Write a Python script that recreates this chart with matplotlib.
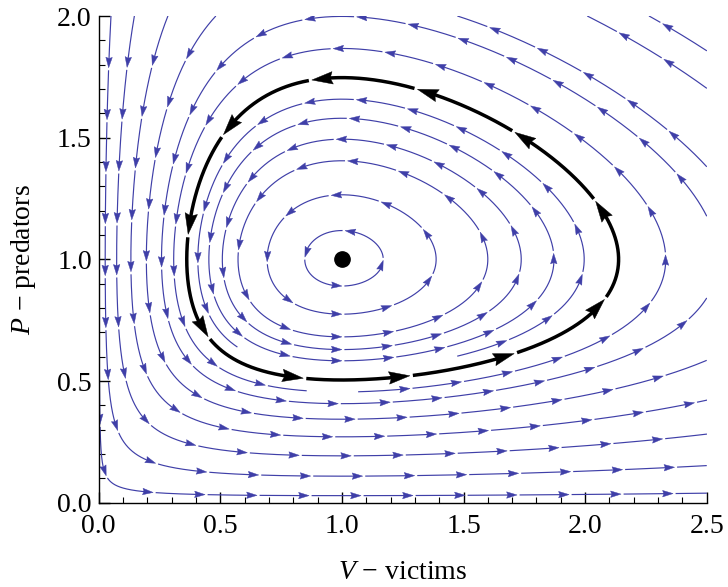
import numpy as np
import matplotlib
matplotlib.use("Agg")
import matplotlib.pyplot as plt
from matplotlib.patches import Polygon
from matplotlib.ticker import FixedLocator, MultipleLocator, FormatStrFormatter

plt.rcParams['font.family'] = ['Liberation Serif', 'DejaVu Serif']
plt.rcParams['mathtext.fontset'] = 'custom'
plt.rcParams['mathtext.it'] = 'Liberation Serif:italic'
plt.rcParams['mathtext.rm'] = 'Liberation Serif'

# ---------------- data ----------------
victim_range = [0.0, 2.5]
predator_range = [0.0, 2.0]
x_ticks = [0.0, 0.5, 1.0, 1.5, 2.0, 2.5]
y_ticks = [0.0, 0.5, 1.0, 1.5, 2.0]
# model: dV/dt = victim_rate*V*(1-P),  dP/dt = predator_rate*P*(V-1)
victim_rate = 2.0
predator_rate = 1.0
equilibrium = [1.0, 1.0]
# stream lines: level of the conserved quantity, drawn angular window (deg, ccw about equilibrium)
stream_levels = [3.013, 3.06, 3.13, 3.185, 3.245, 3.305, 3.485, 3.612,
                 3.70, 3.826, 3.925, 4.06, 4.155, 4.68, 5.65, 8.14]
stream_from = [270, 270, 270, 270, 270, -40, 277, 0,
               0, 90, 0, 0, 90, 90, 90, 205]
stream_to = [630, 630, 630, 630, 630, 220, 615, 360,
             90, 360, 90, 90, 360, 360, 360, 360]
orbit_level = 3.378
orbit_from = 252
orbit_to = 612

BLUE = '#3f3fa8'


def conserved(V, P):
    return predator_rate * (V - np.log(V)) + victim_rate * (P - np.log(P))


def level_curve(h, th0, th1, n_per_deg=30):
    n = int(abs(th1 - th0) * n_per_deg) + 2
    th = np.radians(np.linspace(th0, th1, n))
    c, s = np.cos(th), np.sin(th)
    cx, cy = equilibrium
    with np.errstate(divide='ignore'):
        tv = np.where(c < 0, -cx / np.where(c < 0, c, -1), np.inf)
        tp = np.where(s < 0, -cy / np.where(s < 0, s, -1), np.inf)
    tmax = np.minimum(np.minimum(tv, tp), 30.0) * (1 - 1e-13)
    lo = np.zeros_like(th)
    hi = tmax.copy()
    for _ in range(90):
        mid = 0.5 * (lo + hi)
        val = conserved(cx + mid * c, cy + mid * s) - h
        below = val < 0
        lo = np.where(below, mid, lo)
        hi = np.where(below, hi, mid)
    t = 0.5 * (lo + hi)
    return cx + t * c, cy + t * s


def runs_in_domain(V, P):
    inside = (V >= victim_range[0]) & (V <= victim_range[1]) & \
             (P >= predator_range[0]) & (P <= predator_range[1])
    runs = []
    i = 0
    n = len(V)
    while i < n:
        if inside[i]:
            j = i
            while j + 1 < n and inside[j + 1]:
                j += 1
            a = max(i - 1, 0)
            b = min(j + 1, n - 1)
            runs.append((V[a:b + 1], P[a:b + 1], i == 0 and j == n - 1))
            i = j + 1
        else:
            i += 1
    return runs


def draw_stream(ax, V, P, closed, color, lw, period0, head_len, head_w, gap, z):
    pix = ax.transData.transform(np.column_stack([V, P]))
    d = np.hypot(*np.diff(pix, axis=0).T)
    s = np.concatenate([[0.0], np.cumsum(d)])
    S = s[-1]
    if S < 2:
        return
    if closed:
        nseg = max(1, int(round(S / period0)))
        period = S / nseg
        tips = period * np.arange(1, nseg + 1)
        starts = np.concatenate([[gap], tips[:-1] + gap])
        ends = tips - 0.5 * head_len
    else:
        period = period0
        tips = period * np.arange(1, int(S // period) + 1)
        starts = np.concatenate([[0.0], tips + gap])
        ends = np.concatenate([tips - 0.5 * head_len, [S]])
    inv = ax.transData.inverted()

    def at(sv):
        sv = np.atleast_1d(sv)
        return np.column_stack([np.interp(sv, s, pix[:, 0]), np.interp(sv, s, pix[:, 1])])

    for a, b in zip(starts, ends):
        if b - a <= 0.5:
            continue
        inner = s[(s > a) & (s < b)]
        sv = np.concatenate([[a], inner, [b]])
        p = inv.transform(at(sv))
        ax.plot(p[:, 0], p[:, 1], color=color, lw=lw, solid_capstyle='butt', zorder=z)
    for tip in tips:
        tp, bp = at([tip, tip - head_len])
        u = tp - bp
        u = u / np.hypot(*u)
        nrm = np.array([-u[1], u[0]])
        verts = np.array([tp, bp + nrm * head_w / 2, bp + u * head_len * 0.12,
                          bp - nrm * head_w / 2])
        ax.add_patch(Polygon(inv.transform(verts), closed=True, facecolor=color,
                             edgecolor=color, lw=0.3, zorder=z + 0.1))


fig = plt.figure(figsize=(7.28, 5.87), dpi=100)
W, Hh = 728.0, 587.0
left, right, top, bottom = 98.7, 706.7, 16.0, 502.7
ax = fig.add_axes([left / W, (Hh - bottom) / Hh, (right - left) / W, (bottom - top) / Hh])
ax.set_xlim(victim_range)
ax.set_ylim(predator_range)

for h, a, b in zip(stream_levels, stream_from, stream_to):
    V, P = level_curve(h, a, b)
    full = abs(b - a) >= 360
    for rv, rp, whole in runs_in_domain(V, P):
        draw_stream(ax, rv, rp, full and whole, BLUE, 0.85, 52, 10.5, 6.5, 2.5, 2)

V, P = level_curve(orbit_level, orbit_from, orbit_to)
draw_stream(ax, V, P, True, 'black', 2.5, 106, 21, 12.5, 3, 4)

ax.plot([equilibrium[0]], [equilibrium[1]], 'o', color='black', markersize=11, zorder=6)

for side in ['top', 'right']:
    ax.spines[side].set_visible(False)
for side in ['left', 'bottom']:
    ax.spines[side].set_linewidth(1.0)
ax.xaxis.set_major_locator(FixedLocator(x_ticks))
ax.yaxis.set_major_locator(FixedLocator(y_ticks))
ax.xaxis.set_minor_locator(MultipleLocator(0.1))
ax.yaxis.set_minor_locator(MultipleLocator(0.1))
ax.xaxis.set_major_formatter(FormatStrFormatter('%.1f'))
ax.yaxis.set_major_formatter(FormatStrFormatter('%.1f'))
ax.tick_params(which='major', direction='in', length=8, width=1.0, labelsize=20)
ax.tick_params(which='minor', direction='in', length=4, width=0.8)
ax.tick_params(axis='x', which='major', pad=8)
ax.tick_params(axis='y', which='major', pad=5)
ax.set_xlabel('$V$ \u2212 victims', fontsize=20, labelpad=15)
ax.set_ylabel('$P$ \u2212 predators', fontsize=20, labelpad=14)

fig.savefig('out.png', dpi=100)
